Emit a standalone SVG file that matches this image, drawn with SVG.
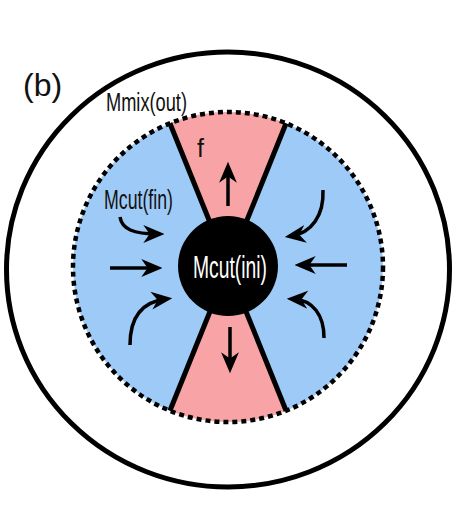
<svg xmlns="http://www.w3.org/2000/svg" width="464" height="522" viewBox="0 0 464 522">
  <style>
    .lbl { font-family: "Liberation Sans", "DejaVu Sans", sans-serif; fill: #111; }
    .edge { stroke: #000; stroke-width: 5; fill: none; }
    .arr { stroke: #000; stroke-width: 3.5; fill: none; marker-end: url(#ah); }
  </style>
  <defs>
    <marker id="ah" viewBox="0 0 20 20" refX="14" refY="10" markerWidth="21" markerHeight="21" markerUnits="userSpaceOnUse" orient="auto">
      <path d="M0,1.5 L20,10 L0,18.5 L6,10 z" fill="#000"/>
    </marker>
  </defs>
  <rect width="464" height="522" fill="#fff"/>
  <g id="outer">
    <ellipse cx="228" cy="269.5" rx="221.5" ry="217.5" fill="none" stroke="#000" stroke-width="5"/>
  </g>
  <g id="mix-region">
    <circle cx="228" cy="267" r="155" fill="#9dcaf6"/>
    <path d="M228,267 L169.9,123.3 A155,155 0 0 1 286.1,123.3 Z" fill="#f8a4a6"/>
    <path d="M228,267 L169.9,410.7 A155,155 0 0 0 286.1,410.7 Z" fill="#f8a4a6"/>
    <line class="edge" x1="211.1" y1="225.3" x2="169.9" y2="123.3"/>
    <line class="edge" x1="244.9" y1="225.3" x2="286.1" y2="123.3"/>
    <line class="edge" x1="211.1" y1="308.7" x2="169.9" y2="410.7"/>
    <line class="edge" x1="244.9" y1="308.7" x2="286.1" y2="410.7"/>
    <circle cx="228" cy="267" r="155" fill="none" stroke="#000" stroke-width="4.5" stroke-dasharray="5 4"/>
  </g>
  <g id="core">
    <circle cx="228" cy="266" r="50" fill="#000"/>
    <text x="230" y="278" text-anchor="middle" font-size="32" textLength="74" lengthAdjust="spacingAndGlyphs" style="font-family:'Liberation Sans','DejaVu Sans',sans-serif;fill:#fff">Mcut(ini)</text>
  </g>
  <g id="labels">
    <text class="lbl" x="23" y="96" font-size="32">(b)</text>
    <text class="lbl" x="106" y="111" font-size="26" textLength="81" lengthAdjust="spacingAndGlyphs">Mmix(out)</text>
    <text class="lbl" x="104" y="209" font-size="27" textLength="69" lengthAdjust="spacingAndGlyphs">Mcut(fin)</text>
    <text class="lbl" x="197" y="157" font-size="25">f</text>
  </g>
  <g id="connectors">
    <line class="arr" x1="228" y1="206" x2="228" y2="168"/>
    <line class="arr" x1="230" y1="327" x2="230" y2="367"/>
    <line class="arr" x1="110" y1="268" x2="156" y2="268"/>
    <line class="arr" x1="347" y1="265" x2="301" y2="265"/>
    <path class="arr" d="M120,217 C122,229 133,234 158,234"/>
    <path class="arr" d="M130,345 C130,320 140,302 166,299"/>
    <path class="arr" d="M323,190 C324,215 312,233 291,236"/>
    <path class="arr" d="M324,338 C324,315 313,300 293,299"/>
  </g>
</svg>
